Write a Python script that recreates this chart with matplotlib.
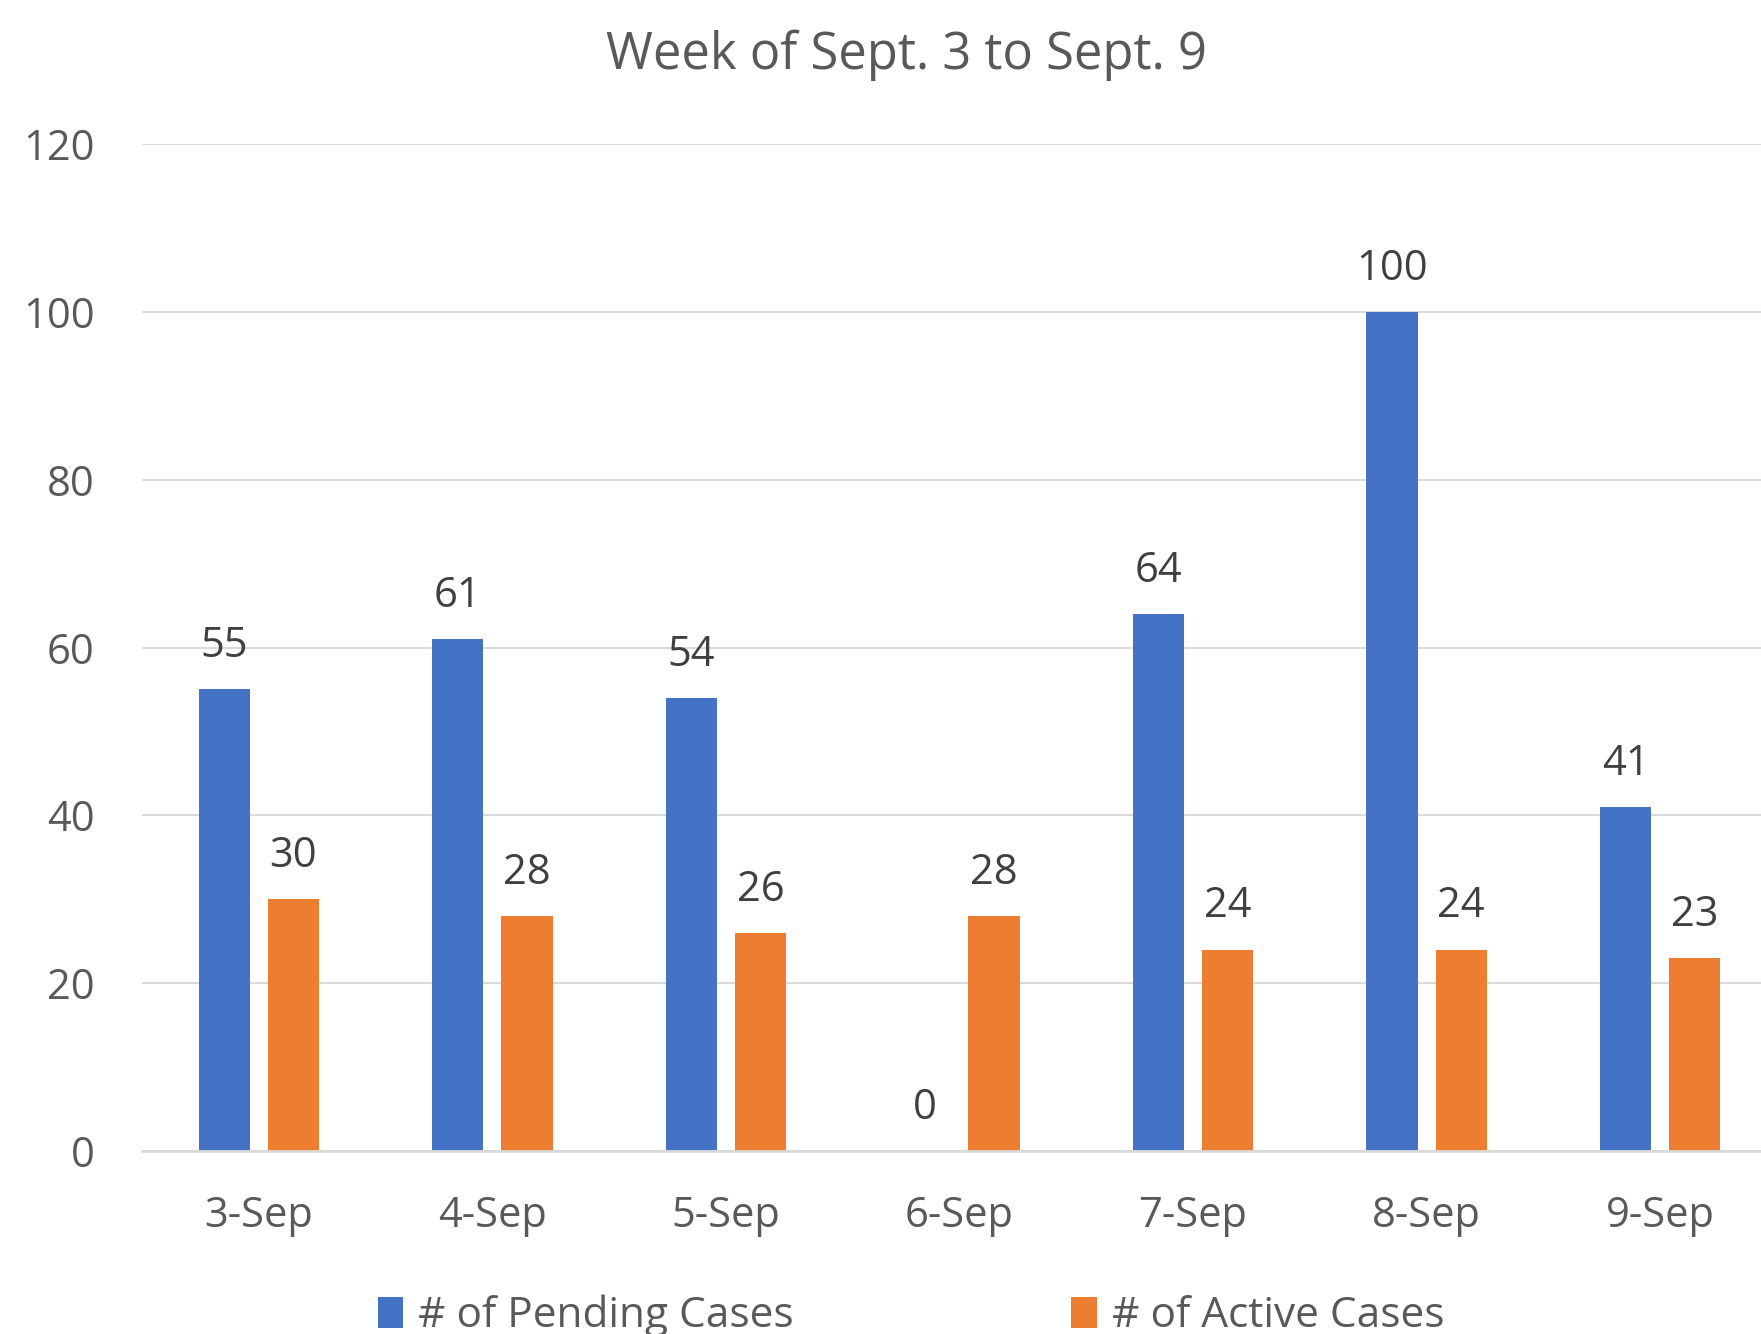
import matplotlib.pyplot as plt
import numpy as np

plt.rcParams['font.family'] = ['Open Sans', 'DejaVu Sans']

# Chart data
days = ['3-Sep', '4-Sep', '5-Sep', '6-Sep', '7-Sep', '8-Sep', '9-Sep']
pending = [55, 61, 54, 0, 64, 100, 41]
active = [30, 28, 26, 28, 24, 24, 23]
y_ticks = [0, 20, 40, 60, 80, 100, 120]

blue = '#4472C4'
orange = '#ED7D31'
grid_col = '#D9D9D9'
tick_col = '#595959'
label_col = '#404040'

fig = plt.figure(figsize=(17.61, 13.34), dpi=100)
# axes runs slightly past the right edge, like the cropped original
ax = fig.add_axes([142 / 1761, (1334 - 1151) / 1334, 1635 / 1761, 1007 / 1334])

x = np.arange(len(days))
w = 0.22
off = 0.148
b1 = ax.bar(x - off, pending, width=w, color=blue, label='# of Pending Cases', zorder=3)
b2 = ax.bar(x + off, active, width=w, color=orange, label='# of Active Cases', zorder=3)

ax.bar_label(b1, padding=16, fontsize=30, color=label_col)
ax.bar_label(b2, padding=16, fontsize=30, color=label_col)

ax.set_xlim(-0.5, len(days) - 0.5)
ax.set_ylim(0, 120)
ax.set_yticks(y_ticks)
ax.set_xticks(x)
ax.set_xticklabels(days)
ax.tick_params(axis='y', length=0, pad=34, labelsize=30, labelcolor=tick_col)
ax.tick_params(axis='x', length=0, pad=32, labelsize=30, labelcolor=tick_col)

ax.yaxis.grid(True, color=grid_col, linewidth=1.4, zorder=0)
for s in ['top', 'right', 'left']:
    ax.spines[s].set_visible(False)
ax.spines['bottom'].set_color(grid_col)
ax.spines['bottom'].set_linewidth(2)
ax.spines['bottom'].set_zorder(4)

fig.text(907 / 1761, 1 - 55 / 1334, 'Week of Sept. 3 to Sept. 9', ha='center', va='center',
         fontsize=36.5, color=tick_col)

fig.legend(handles=[b1, b2], loc='center', bbox_to_anchor=(911 / 1761, 1 - 1316 / 1334),
           ncol=2, frameon=False, fontsize=30.5, labelcolor=tick_col,
           handlelength=0.6, handleheight=0.75, handletextpad=0.35, columnspacing=6.55)

fig.savefig('out.png', dpi=100)
